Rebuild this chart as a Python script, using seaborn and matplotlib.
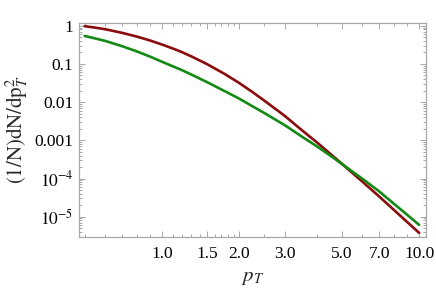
import matplotlib
matplotlib.use("Agg")
import matplotlib.pyplot as plt
import matplotlib.ticker as mticker
import numpy as np
import pandas as pd
import seaborn as sns

# Data
pt = [0.5, 0.55, 0.6, 0.7, 0.8, 0.9, 1.0, 1.1, 1.2, 1.3, 1.5, 1.75, 2.0, 2.25, 2.5,
      3.0, 3.5, 4.0, 4.5, 5.0, 5.5, 6.0, 7.0, 8.0, 9.0, 10.0]
red_vals = [0.976, 0.892, 0.815, 0.652, 0.519, 0.410, 0.322, 0.255, 0.202, 0.158,
            0.0982, 0.0550, 0.0314, 0.0183, 0.01094, 0.00438, 0.00184, 8.87e-4,
            4.51e-4, 2.45e-4, 1.40e-4, 8.4e-5, 3.36e-5, 1.48e-5, 7.18e-6, 3.77e-6]
green_vals = [0.541, 0.465, 0.403, 0.291, 0.212, 0.155, 0.114, 0.0871, 0.068, 0.0528,
              0.0332, 0.0195, 0.01227, 0.00776, 0.00519, 0.0025, 0.00125, 6.97e-4,
              4.03e-4, 2.43e-4, 1.52e-4, 1.0e-4, 4.57e-5, 2.15e-5, 1.11e-5, 6.1e-6]

x_ticks = [1.0, 1.5, 2.0, 3.0, 5.0, 7.0, 10.0]
x_tick_labels = ["1.0", "1.5", "2.0", "3.0", "5.0", "7.0", "10.0"]
y_ticks = [1, 0.1, 0.01, 0.001, 1e-4, 1e-5]
y_tick_labels = ["1", "0.1", "0.01", "0.001", r"$10^{-4}$", r"$10^{-5}$"]

df = pd.DataFrame({
    "pt": pt * 2,
    "val": red_vals + green_vals,
    "series": ["red"] * len(pt) + ["green"] * len(pt),
})

sns.set_style("ticks")
plt.rcParams["font.family"] = ["Liberation Serif", "DejaVu Serif"]
plt.rcParams["mathtext.fontset"] = "stix"

fig = plt.figure(figsize=(4.36, 2.88), dpi=100)
ax = fig.add_axes([0.181, 0.178, 0.796, 0.743])

sns.lineplot(data=df, x="pt", y="val", hue="series",
             palette={"red": "#8a0c0c", "green": "#138a13"},
             linewidth=1.9, legend=False, ax=ax, estimator=None, sort=True)

ax.set_xscale("log")
ax.set_yscale("log")
ax.set_xlim(0.475, 10.63)
ax.set_ylim(2.99e-6, 1.2)

frame_col = "#a8a8a8"
for s in ax.spines.values():
    s.set_color(frame_col)
    s.set_linewidth(0.9)

ax.xaxis.set_major_locator(mticker.FixedLocator(x_ticks))
ax.xaxis.set_major_formatter(mticker.FixedFormatter(x_tick_labels))
ax.xaxis.set_minor_locator(mticker.FixedLocator(
    [0.5, 0.6, 0.7, 0.8, 0.9, 1.1, 1.2, 1.3, 1.4, 1.6, 1.7, 1.8, 1.9, 2.5, 4.0, 6.0, 8.0, 9.0]))
ax.xaxis.set_minor_formatter(mticker.NullFormatter())

ax.yaxis.set_major_locator(mticker.FixedLocator(y_ticks))
ax.yaxis.set_major_formatter(mticker.FixedFormatter(y_tick_labels))
ax.yaxis.set_minor_locator(mticker.LogLocator(base=10, subs=np.arange(2, 10), numticks=20))
ax.yaxis.set_minor_formatter(mticker.NullFormatter())

ax.tick_params(which="both", direction="in", top=True, right=True, color=frame_col,
               labelsize=12.5, labelcolor="black", width=0.7)
ax.tick_params(which="major", length=4)
ax.tick_params(which="minor", length=2)
ax.tick_params(axis="x", pad=7)
ax.tick_params(axis="y", pad=4)

ax.set_xlabel(r"$p_T$", fontsize=15, labelpad=4)
ax.set_ylabel(r"$\mathrm{(1/N)dN/dp}_T^2$", fontsize=15, labelpad=3)

fig.savefig("out.png", dpi=100)
